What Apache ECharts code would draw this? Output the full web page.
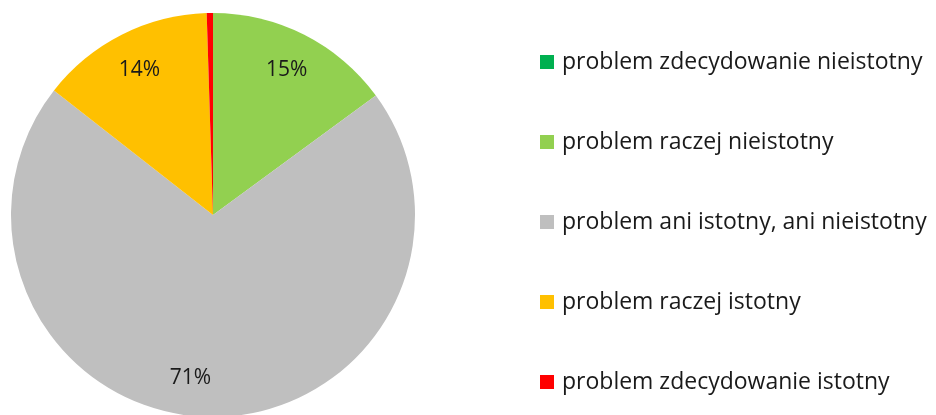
<!DOCTYPE html>
<html>
<head>
<meta charset="utf-8">
<script src="https://cdn.jsdelivr.net/npm/echarts@6/dist/echarts.min.js"></script>
<style>html,body{margin:0;padding:0;background:#fff}#c{width:936px;height:415px}</style>
</head>
<body>
<div id="c"></div>
<script>
const categories = [
  'problem zdecydowanie nieistotny',
  'problem raczej nieistotny',
  'problem ani istotny, ani nieistotny',
  'problem raczej istotny',
  'problem zdecydowanie istotny'
];
const values = [0, 15, 71, 14, 0.5];
const colors = ['#00B050', '#92D050', '#BFBFBF', '#FFC000', '#FF0000'];

const font = '"Open Sans", Lato, sans-serif';
const chart = echarts.init(document.getElementById('c'));

const pieData = categories.map((n, i) => ({ name: n, value: values[i], itemStyle: { color: colors[i] } }));
const labelData = categories.map((n, i) => {
  const d = { name: n, value: values[i] };
  if (i === 2) d.label = { offset: [-20, 0] };
  return d;
});

chart.setOption({
  animation: false,
  legend: {
    orient: 'vertical',
    left: 540,
    top: 48,
    padding: 0,
    itemWidth: 14,
    itemHeight: 14,
    itemGap: 52,
    icon: 'rect',
    textStyle: { fontFamily: font, fontSize: 23, color: '#1a1a1a', padding: [0, 0, 0, 3], lineHeight: 28 },
    data: categories
  },
  series: [
    {
      type: 'pie',
      center: [213, 215],
      radius: [0, 202],
      startAngle: 90,
      clockwise: true,
      silent: true,
      label: { show: false },
      labelLine: { show: false },
      itemStyle: { borderWidth: 0 },
      data: pieData
    },
    {
      type: 'pie',
      center: [213, 215],
      radius: [118, 202],
      startAngle: 90,
      clockwise: true,
      silent: true,
      legendHoverLink: false,
      itemStyle: { color: 'rgba(0,0,0,0)', borderWidth: 0 },
      label: {
        show: true,
        position: 'inside',
        fontFamily: font,
        fontSize: 21,
        color: '#1a1a1a',
        formatter: p => p.value >= 1 ? Math.round(p.value) + '%' : ''
      },
      labelLine: { show: false },
      data: labelData
    }
  ]
});
</script>
</body>
</html>
